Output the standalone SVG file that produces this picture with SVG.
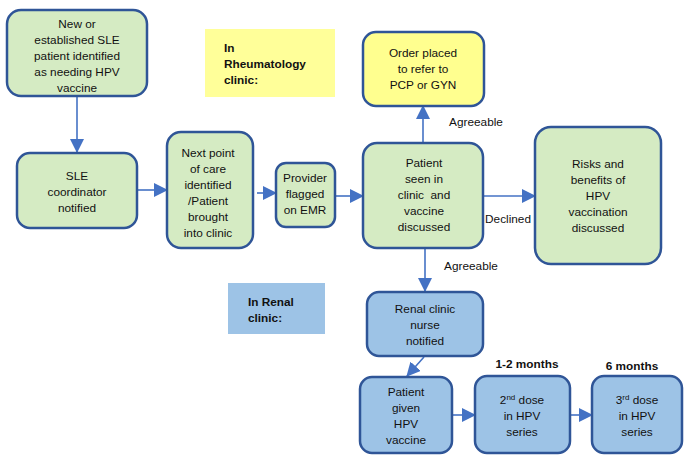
<svg xmlns="http://www.w3.org/2000/svg" width="684" height="461" viewBox="0 0 684 461">
<defs>
<marker id="ah" markerWidth="14" markerHeight="14" refX="13" refY="7" orient="auto" markerUnits="userSpaceOnUse">
<path d="M0,0 L14,7 L0,14 Z" fill="#4472C4"/>
</marker>
<style>
.g{fill:#D5EBC3;stroke:#2F5597;stroke-width:2.5}
.y{fill:#FFFF8F;stroke:#2F5597;stroke-width:2.5}
.b{fill:#9DC3E6;stroke:#2F5597;stroke-width:2.5}
text{font-family:"Liberation Sans",Arial,sans-serif;font-size:11.8px;fill:#111;text-anchor:middle}
.bold{font-weight:bold;text-anchor:start}
.bc{font-weight:bold}
.c line{stroke:#4472C4;stroke-width:1.6;marker-end:url(#ah)}
</style>
</defs>
<rect x="205" y="29" width="130" height="68" fill="#FFFF99"/>
<text class="bold" x="224" y="52">In</text>
<text class="bold" x="224" y="68">Rheumatology</text>
<text class="bold" x="224" y="84">clinic:</text>
<rect x="228" y="283" width="97" height="51" fill="#9DC3E6"/>
<text class="bold" x="248" y="306">In Renal</text>
<text class="bold" x="248" y="322">clinic:</text>
<g class="c">
<line x1="77" y1="96" x2="77" y2="152"/>
<line x1="137" y1="190" x2="167" y2="190"/>
<line x1="257" y1="193" x2="276" y2="193"/>
<line x1="335" y1="196" x2="363" y2="196"/>
<line x1="423" y1="143" x2="423" y2="106"/>
<line x1="483" y1="196" x2="535" y2="196"/>
<line x1="425" y1="248" x2="425" y2="291"/>
<line x1="424" y1="357" x2="407" y2="376"/>
<line x1="452" y1="415" x2="475" y2="415"/>
<line x1="570" y1="415" x2="592" y2="415"/>
</g>
<text x="476" y="126">Agreeable</text>
<text x="508" y="223">Declined</text>
<text x="471" y="270">Agreeable</text>
<text class="bc" x="527" y="368">1-2 months</text>
<text class="bc" x="632" y="370">6 months</text>
<g id="n1"><rect class="g" x="7" y="10" width="140" height="86" rx="14"/>
<text x="77" y="28">New or</text><text x="77" y="44">established SLE</text><text x="77" y="60">patient identified</text><text x="77" y="76">as needing HPV</text><text x="77" y="92">vaccine</text></g>
<g id="n2"><rect class="g" x="17" y="153" width="120" height="75" rx="13"/>
<text x="77" y="180">SLE</text><text x="77" y="196">coordinator</text><text x="77" y="212">notified</text></g>
<g id="n3"><rect class="g" x="167" y="132" width="86" height="116" rx="14"/>
<text x="208" y="157">Next point</text><text x="208" y="173">of care</text><text x="208" y="189">identified</text><text x="208" y="205">/Patient</text><text x="208" y="221">brought</text><text x="208" y="237">into clinic</text></g>
<g id="n4"><rect class="g" x="276" y="163" width="59" height="64" rx="10"/>
<text x="305" y="182">Provider</text><text x="305" y="198">flagged</text><text x="305" y="214">on EMR</text></g>
<g id="n5"><rect class="y" x="363" y="32" width="121" height="74" rx="13"/>
<text x="423" y="57">Order placed</text><text x="423" y="73">to refer to</text><text x="423" y="89">PCP or GYN</text></g>
<g id="n6"><rect class="g" x="363" y="143" width="120" height="105" rx="14"/>
<text x="424" y="167">Patient</text><text x="424" y="183">seen in</text><text x="424" y="199" xml:space="preserve">clinic  and</text><text x="424" y="215">vaccine</text><text x="424" y="231">discussed</text></g>
<g id="n7"><rect class="g" x="535" y="127" width="126" height="137" rx="16"/>
<text x="598" y="168">Risks and</text><text x="598" y="184">benefits of</text><text x="598" y="200">HPV</text><text x="598" y="216">vaccination</text><text x="598" y="232">discussed</text></g>
<g id="n8"><rect class="b" x="367" y="292" width="116" height="64" rx="12"/>
<text x="425" y="313">Renal clinic</text><text x="425" y="329">nurse</text><text x="425" y="345">notified</text></g>
<g id="n9"><rect class="b" x="360" y="377" width="92" height="76" rx="12"/>
<text x="406" y="396">Patient</text><text x="406" y="412">given</text><text x="406" y="428">HPV</text><text x="406" y="444">vaccine</text></g>
<g id="n10"><rect class="b" x="475" y="376" width="95" height="77" rx="12"/>
<text x="522" y="404">2<tspan font-size="8" dy="-4">nd</tspan><tspan dy="4"> dose</tspan></text><text x="522" y="420">in HPV</text><text x="522" y="436">series</text></g>
<g id="n11"><rect class="b" x="592" y="376" width="90" height="77" rx="12"/>
<text x="637" y="404">3<tspan font-size="8" dy="-4">rd</tspan><tspan dy="4"> dose</tspan></text><text x="637" y="420">in HPV</text><text x="637" y="436">series</text></g>
</svg>
